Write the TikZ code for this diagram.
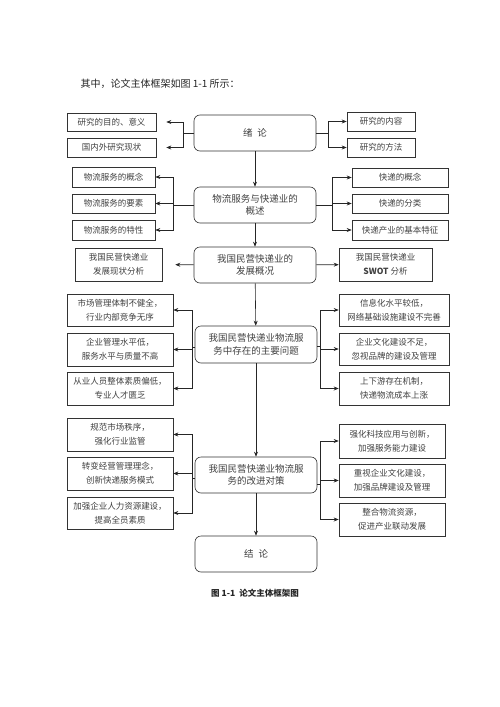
\documentclass[tikz,border=0pt]{standalone}
\usepackage{fontspec}
\setmainfont{Liberation Serif}
\newfontfamily\cjk{Noto Sans CJK SC}
\usetikzlibrary{arrows.meta}
\tikzset{
  mainbox/.style={draw=black!80,rounded corners=6pt,minimum width=122pt,minimum height=36pt,
    align=center,inner sep=2pt,text=black!75,font=\cjk\fontsize{9.5}{12.5}\selectfont},
  subbox/.style={draw=black!80,align=center,inner sep=1pt,text=black!75,
    font=\cjk\fontsize{8.5}{14}\selectfont},
  arr/.style={-{Stealth[length=5pt,width=4pt]},black!85},
  ln/.style={black!85}
}
\begin{document}
\begin{tikzpicture}[x=1pt,y=-1pt,line width=.6pt]
\useasboundingbox (0,0) rectangle (500,707);
\node[anchor=west,text=black!85,font=\cjk\fontsize{10}{12}\selectfont] (intro) at (77,84) {其中，论文主体框架如图 1-1 所示：};
% main column
\node[mainbox] (xulun) at (255,133) {绪\hspace{5pt}论};
\node[mainbox] (gaishu) at (255,205) {物流服务与快递业的\\概述};
\node[mainbox] (fazhan) at (255,265) {我国民营快递业的\\发展概况};
\node[mainbox,minimum height=37pt] (wenti) at (256,344.5) {我国民营快递业物流服\\务中存在的主要问题};
\node[mainbox] (duice) at (256,475) {我国民营快递业物流服\\务的改进对策};
\node[mainbox] (jielun) at (256,554) {结\hspace{5pt}论};
\foreach\a/\b in{xulun/gaishu,gaishu/fazhan,fazhan/wenti,wenti/duice,duice/jielun}
  \draw[arr](\a)--(\b);
% row 1
\node[subbox,minimum width=89pt,minimum height=18pt] (mudi) at (111.5,122) {研究的目的、意义};
\node[subbox,minimum width=89pt,minimum height=19pt] (xianzhuang) at (111.5,147.5) {国内外研究现状};
\node[subbox,minimum width=68pt,minimum height=19pt] (neirong) at (381,121.5) {研究的内容};
\node[subbox,minimum width=68pt,minimum height=19pt] (fangfa) at (381,147.5) {研究的方法};
\coordinate (l1) at (183,133);
\coordinate (r1) at (328,133);
\draw[ln](xulun.west)--(l1) (xulun.east)--(r1);
\foreach\n in{mudi,xianzhuang}\draw[arr,shorten >=10pt](l1)|-(\n);
\foreach\n in{neirong,fangfa}\draw[arr](r1)|-(\n);
% row 2
\node[subbox,minimum width=83pt,minimum height=20pt] (wlgainian) at (113.5,177) {物流服务的概念};
\node[subbox,minimum width=83pt,minimum height=19pt] (wlyaosu) at (113.5,203.5) {物流服务的要素};
\node[subbox,minimum width=83pt,minimum height=20pt] (wltexing) at (113.5,230) {物流服务的特性};
\node[subbox,minimum width=96pt,minimum height=19pt] (kdgainian) at (400,177.5) {快递的概念};
\node[subbox,minimum width=96pt,minimum height=19pt] (kdfenlei) at (400,203.5) {快递的分类};
\node[subbox,minimum width=96pt,minimum height=20pt] (kdtezheng) at (400,230) {快递产业的基本特征};
\coordinate (l2) at (173,205);
\coordinate (r2) at (332,205);
\draw[ln](gaishu.west)--(l2) (gaishu.east)--(r2);
\foreach\n in{wlgainian,wlyaosu,wltexing}\draw[arr](l2)|-(\n);
\foreach\n in{kdgainian,kdfenlei,kdtezheng}\draw[arr](r2)|-(\n);
% row 3
\node[subbox,minimum width=87pt,minimum height=33pt] (xzfx) at (118.5,264.5) {我国民营快递业\\发展现状分析};
\node[subbox,minimum width=93pt,minimum height=33pt] (swot) at (385.5,264.5) {我国民营快递业\\\textbf{SWOT} 分析};
\draw[arr,shorten >=13pt](fazhan)--(xzfx);
\draw[arr](fazhan)--(swot);
% row 4
\node[subbox,minimum width=106pt,minimum height=32pt] (tizhi) at (120,310) {市场管理体制不健全，\\行业内部竞争无序};
\node[subbox,minimum width=106pt,minimum height=33pt] (guanli) at (120,349.5) {企业管理水平低，\\服务水平与质量不高};
\node[subbox,minimum width=106pt,minimum height=33pt] (suzhi) at (120,388.5) {从业人员整体素质偏低，\\专业人才匮乏};
\node[subbox,minimum width=110pt,minimum height=32pt] (xinxi) at (394,310) {信息化水平较低，\\网络基础设施建设不完善};
\node[subbox,minimum width=110pt,minimum height=32pt] (wenhua) at (394,349) {企业文化建设不足，\\忽视品牌的建设及管理};
\node[subbox,minimum width=110pt,minimum height=33pt] (jizhi) at (394,388.5) {上下游存在机制，\\快递物流成本上涨};
\coordinate (l4) at (192,347);
\coordinate (r4) at (320,346);
\draw[ln](wenti.west|-l4)--(l4) (wenti.east|-r4)--(r4);
\foreach\n in{tizhi,guanli,suzhi}\draw[arr](l4)|-(\n);
\foreach\n in{xinxi,wenhua,jizhi}\draw[arr](r4)|-(\n);
% row 5
\node[subbox,minimum width=106pt,minimum height=33pt] (zhixu) at (120,434.5) {规范市场秩序，\\强化行业监管};
\node[subbox,minimum width=106pt,minimum height=33pt] (linian) at (120,473.5) {转变经营管理理念，\\创新快递服务模式};
\node[subbox,minimum width=106pt,minimum height=32pt] (renli) at (120,513) {加强企业人力资源建设，\\提高全员素质};
\node[subbox,minimum width=106pt,minimum height=34pt] (keji) at (392,441) {强化科技应用与创新，\\加强服务能力建设};
\node[subbox,minimum width=106pt,minimum height=33pt] (pinpai) at (392,480.5) {重视企业文化建设，\\加强品牌建设及管理};
\node[subbox,minimum width=106pt,minimum height=33pt] (ziyuan) at (392,519.5) {整合物流资源，\\促进产业联动发展};
\coordinate (l5) at (192,478);
\coordinate (r5) at (320,484);
\draw[ln](duice.west|-l5)--(l5) (duice.east|-r5)--(r5);
\foreach\n in{zhixu,linian,renli}\draw[arr](l5)|-(\n);
\foreach\n in{keji,pinpai,ziyuan}\draw[arr](r5)|-(\n);
% caption
\node[text=black!85,font=\cjk\bfseries\fontsize{8.5}{10}\selectfont] (cap) at (255,593) {图 1-1\hspace{4pt}论文主体框架图};
\end{tikzpicture}
\end{document}
